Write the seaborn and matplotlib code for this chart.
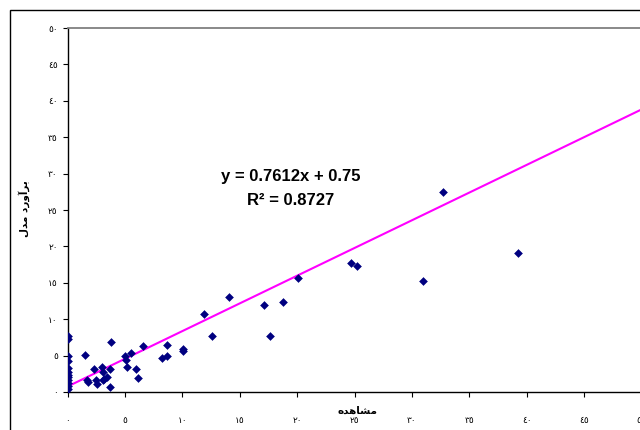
import matplotlib
matplotlib.use("Agg")
import matplotlib.pyplot as plt
import pandas as pd
import seaborn as sns
from matplotlib.patches import Rectangle

# observed vs model estimate
observed = [0, 0, 0, 0, 0, 0, 0, 0, 0, 0, 0, 0,
            1.5, 2.3, 1.7, 1.8, 2.5, 2.6,
            11.9, 12.6, 3.8, 6.6, 8.7, 10.1, 10.1, 5.5, 5.0, 5.1, 8.7, 8.2,
            3.0, 3.7, 5.2, 6.0, 3.1, 3.4, 3.2, 3.1, 6.1, 3.7,
            20.1, 14.1, 18.8, 17.1, 17.6,
            32.7, 24.7, 25.2, 31.0, 39.2]
predicted = [7.7, 7.3, 5.0, 4.2, 3.3, 2.8, 2.4, 2.0, 1.6, 1.2, 0.8, 0.4,
             5.1, 3.2, 1.6, 1.4, 1.6, 1.1,
             10.7, 7.7, 6.8, 6.3, 6.4, 5.9, 5.6, 5.4, 4.9, 4.4, 4.9, 4.7,
             3.4, 3.2, 3.4, 3.2, 2.7, 2.1, 1.8, 1.6, 1.9, 0.7,
             15.6, 13.0, 12.4, 11.9, 7.7,
             27.5, 17.7, 17.3, 15.3, 19.1]

slope = 0.7612
intercept = 0.75
r_squared = 0.8727
trend_x = [0, 50]

tick_values = [0, 5, 10, 15, 20, 25, 30, 35, 40, 45, 50]
tick_labels = ["٠", "٥", "١٠", "١٥", "٢٠", "٢٥", "٣٠", "٣٥", "٤٠", "٤٥", "٥٠"]
x_label = "مشاهده"
y_label = "برآورد مدل"

# presentation forms: isolated, final, initial, medial
FORMS = {
    "ب": ("\ufe8f", "\ufe90", "\ufe91", "\ufe92"),
    "ش": ("\ufeb5", "\ufeb6", "\ufeb7", "\ufeb8"),
    "م": ("\ufee1", "\ufee2", "\ufee3", "\ufee4"),
    "ل": ("\ufedd", "\ufede", "\ufedf", "\ufee0"),
    "ه": ("\ufee9", "\ufeea", "\ufeeb", "\ufeec"),
    "ا": ("\ufe8d", "\ufe8e"),
    "آ": ("\ufe81", "\ufe82"),
    "د": ("\ufea9", "\ufeaa"),
    "ر": ("\ufead", "\ufeae"),
    "و": ("\ufeed", "\ufeee"),
}


def shape(text):
    """Join the letters and put them in visual order (no bidi in matplotlib)."""
    out = []
    for i, ch in enumerate(text):
        forms = FORMS.get(ch)
        if forms is None:
            out.append(ch)
            continue
        prev = text[i - 1] if i > 0 else ""
        nxt = text[i + 1] if i + 1 < len(text) else ""
        join_prev = len(FORMS.get(prev, ())) == 4
        join_next = len(forms) == 4 and nxt in FORMS
        if join_prev and join_next:
            out.append(forms[3])
        elif join_prev:
            out.append(forms[1])
        elif join_next:
            out.append(forms[2])
        else:
            out.append(forms[0])
    return "".join(reversed(out))


def main():
    df = pd.DataFrame({"obs": observed, "est": predicted})
    trend = pd.DataFrame({"x": trend_x,
                          "y": [slope * v + intercept for v in trend_x]})

    fig = plt.figure(figsize=(6.4, 4.3), dpi=100)
    ax = fig.add_axes([67.5 / 640, 38 / 430, 574 / 640, 364 / 430])

    sns.lineplot(data=trend, x="x", y="y", ax=ax, color="#ff00ff",
                 linewidth=1.5, zorder=2)
    sns.scatterplot(data=df, x="obs", y="est", ax=ax, marker="D", s=16,
                    color="#000080", edgecolor="#000080", linewidth=0.4,
                    zorder=3)

    ax.set_xlim(0, 50)
    ax.set_ylim(0, 50)
    ax.set_xticks(tick_values)
    ax.set_xticklabels(tick_labels, family=["DejaVu Sans"], fontsize=6.5)
    ax.set_yticks(tick_values)
    ax.set_yticklabels(tick_labels, family=["DejaVu Sans"], fontsize=6.5)
    ax.tick_params(axis="x", length=3.5, width=0.8, pad=13.5)
    ax.tick_params(axis="y", length=3.5, width=0.8, pad=3.5)

    ax.set_xlabel(shape(x_label), family=["DejaVu Sans"], fontsize=7.5,
                  fontweight="bold")
    ax.xaxis.set_label_coords(0.505, -0.038)
    ax.set_ylabel(shape(y_label), family=["DejaVu Sans"], fontsize=7.5,
                  fontweight="bold")
    ax.yaxis.set_label_coords(-0.066, 0.505)

    for side in ["left", "bottom"]:
        ax.spines[side].set_color("black")
        ax.spines[side].set_linewidth(1.0)
    ax.spines["top"].set_color("#808080")
    ax.spines["top"].set_linewidth(1.3)
    ax.spines["right"].set_color("#808080")

    ax.text(0.389, 0.593, f"y = {slope}x + {intercept}", transform=ax.transAxes,
            ha="center", va="center", fontsize=12, fontweight="bold",
            family=["Liberation Sans"])
    ax.text(0.389, 0.527, f"R² = {r_squared}", transform=ax.transAxes,
            ha="center", va="center", fontsize=12, fontweight="bold",
            family=["Liberation Sans"])

    # outer chart-area border (runs off the right and bottom edges)
    fig.patches.append(Rectangle((10 / 640, -0.1), 1.2, 1.1 - 10 / 430,
                                 transform=fig.transFigure, fill=False,
                                 edgecolor="black", linewidth=1.0))

    fig.savefig("out.png", dpi=100)


if __name__ == "__main__":
    main()
